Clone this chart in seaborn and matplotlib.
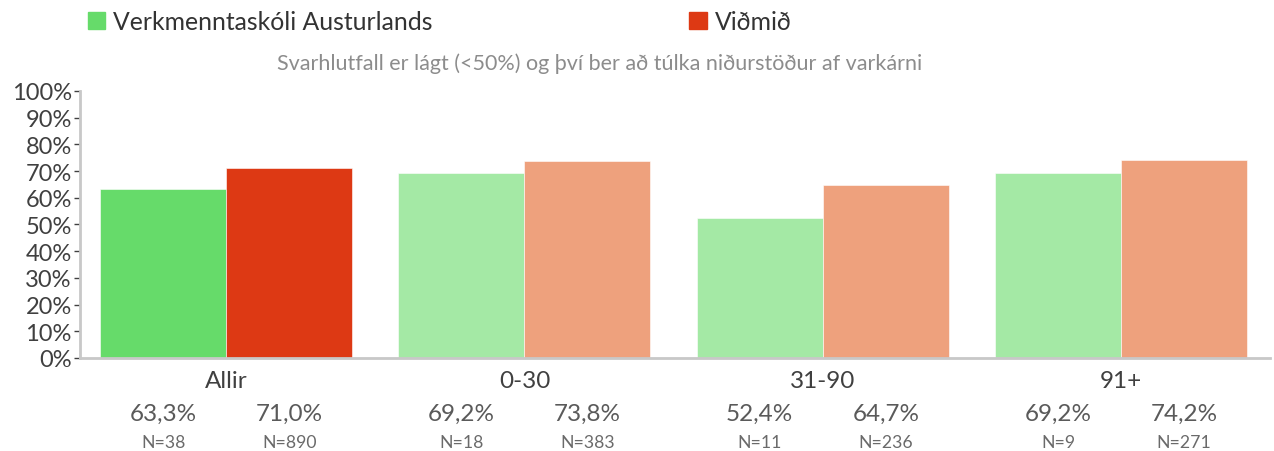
import pandas as pd
import numpy as np
import matplotlib.pyplot as plt
import matplotlib.patches as mpatches
from matplotlib.transforms import blended_transform_factory
import seaborn as sns

groups = ['Allir', '0-30', '31-90', '91+']
series = ['Verkmenntaskóli Austurlands', 'Viðmið']
school = [63.3, 69.2, 52.4, 69.2]
benchmark = [71.0, 73.8, 64.7, 74.2]
school_n = [38, 18, 11, 9]
benchmark_n = [890, 383, 236, 271]
subtitle = 'Svarhlutfall er lágt (<50%) og því ber að túlka niðurstöður af varkárni'

green, red = '#66db6a', '#dd3914'
green_light, red_light = '#a4e9a5', '#eea17d'

sns.set_style('white')
plt.rcParams['font.family'] = ['Lato', 'DejaVu Sans']

df = pd.DataFrame({
    'group': groups * 2,
    'series': [series[0]] * 4 + [series[1]] * 4,
    'value': school + benchmark,
    'n': school_n + benchmark_n,
})

fig = plt.figure(figsize=(12.74, 4.52), dpi=100)
ax = fig.add_axes([0.0628, 0.2058, 0.9342, 0.5907])

sns.barplot(data=df, x='group', y='value', hue='series', order=groups,
            hue_order=series, palette=[green, red], saturation=1,
            width=0.845, gap=0, legend=False, ax=ax,
            edgecolor='#ffffff', linewidth=0.4)

# first group in full colour, the rest lighter
light = [green_light, red_light]
trans = blended_transform_factory(ax.transData, ax.transAxes)
for k, cont in enumerate(ax.containers):
    vals = school if k == 0 else benchmark
    ns = school_n if k == 0 else benchmark_n
    for i, bar in enumerate(cont):
        if i > 0:
            bar.set_facecolor(light[k])
        cx = bar.get_x() + bar.get_width() / 2
        ax.text(cx, -0.207, f'{vals[i]:.1f}%'.replace('.', ','), transform=trans,
                ha='center', va='center', fontsize=17.5, color='#5a5a5a')
        ax.text(cx, -0.313, f'N={ns[i]}', transform=trans,
                ha='center', va='center', fontsize=12.7, color='#6a6a6a')

ax.set_xlim(-0.49, 3.5)
ax.set_ylim(0, 100)
ax.set_yticks(np.arange(0, 101, 10))
ax.set_yticklabels([f'{v}%' for v in range(0, 101, 10)])
ax.tick_params(axis='y', labelsize=17, labelcolor='#404040', length=4,
               width=1, color='#404040', left=True, pad=2)
ax.tick_params(axis='x', labelsize=17.5, labelcolor='#404040', length=0, pad=9)
ax.set_xlabel('')
ax.set_ylabel('')
for s in ['top', 'right']:
    ax.spines[s].set_visible(False)
for s in ['left', 'bottom']:
    ax.spines[s].set_color('#c8c8c8')
    ax.spines[s].set_linewidth(2)

handles = [mpatches.Patch(color=green, label=series[0]),
           mpatches.Patch(color=red, label=series[1])]
fig.legend(handles=handles, loc='upper left', bbox_to_anchor=(0.069, 0.976),
           ncol=2, frameon=False, fontsize=17.8, handlelength=0.69,
           handleheight=0.69, handletextpad=0.32, columnspacing=10.4,
           borderpad=0, borderaxespad=0, labelcolor='#333333')

fig.text(0.471, 0.86, subtitle, ha='center', va='center', fontsize=15.5,
         color='#8c8c8c')

fig.savefig('out.png', dpi=100)
